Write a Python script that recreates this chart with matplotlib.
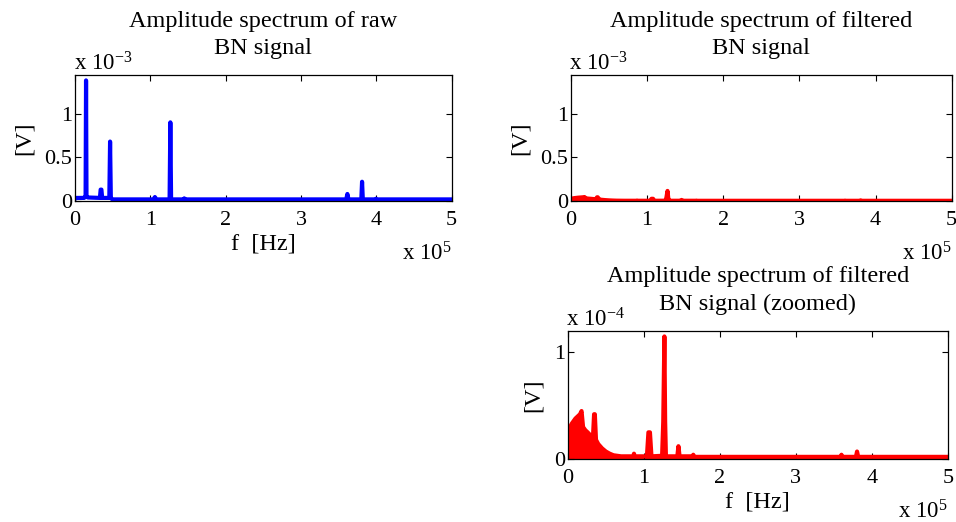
import matplotlib
matplotlib.use("Agg")
import matplotlib.pyplot as plt
import numpy as np

plt.rcParams['font.family'] = ['Liberation Serif', 'DejaVu Serif']
plt.rcParams['mathtext.default'] = 'regular'
plt.rcParams['font.size'] = 16

# Raw BN signal amplitude spectrum (f in Hz, amplitude in 1e-3 V)
f_raw = [0, 2000, 12000, 14000, 14600, 15200, 17000, 33000, 34000, 35000,
         36000, 45500, 46500, 47500, 48500, 50000, 104000, 106000, 108000, 125500,
         126500, 127500, 144000, 145000, 146000, 360000, 361500, 363000, 380000, 381000,
         382000, 398000, 399500, 401000, 500000]
a_raw = [0.025, 0.035, 0.035, 0.05, 1.38, 0.05, 0.04, 0.035, 0.13, 0.13,
         0.035, 0.035, 0.68, 0.035, 0.025, 0.018, 0.018, 0.045, 0.018, 0.018,
         0.90, 0.018, 0.018, 0.03, 0.018, 0.018, 0.08, 0.018, 0.018, 0.22,
         0.018, 0.018, 0.025, 0.018, 0.018]

# Filtered BN signal amplitude spectrum (f in Hz, amplitude in 1e-4 V)
f_filt = [0, 1000, 3000, 5000, 8000, 10000, 13000, 16000, 18000, 20000,
          23000, 26000, 30000, 33000, 34500, 35500, 37000, 40000, 45000, 50000,
          55000, 60000, 65000, 70000, 86000, 87000, 88000, 104000, 106000, 108000,
          110000, 124000, 125500, 127000, 128000, 129000, 130000, 144000, 145500, 147000,
          164000, 165000, 166000, 359000, 360000, 361000, 379000, 380500, 382000, 500000]
a_filt = [0.05, 0.2, 0.3, 0.33, 0.36, 0.38, 0.40, 0.42, 0.45, 0.30,
          0.27, 0.25, 0.22, 0.2, 0.42, 0.42, 0.18, 0.14, 0.1, 0.07,
          0.05, 0.035, 0.03, 0.025, 0.025, 0.05, 0.025, 0.025, 0.25, 0.25,
          0.025, 0.03, 0.35, 1.15, 0.35, 0.03, 0.025, 0.025, 0.12, 0.025,
          0.025, 0.04, 0.02, 0.02, 0.04, 0.02, 0.02, 0.07, 0.02, 0.02]

x_ticks = [0, 1, 2, 3, 4, 5]
titles = ["Amplitude spectrum of raw\nBN signal",
          "Amplitude spectrum of filtered\nBN signal",
          "Amplitude spectrum of filtered\nBN signal (zoomed)"]

f_raw = np.array(f_raw) / 1e5
f_filt = np.array(f_filt) / 1e5
a_raw = np.array(a_raw)
a_filt = np.array(a_filt)

fig = plt.figure(figsize=(9.56, 5.22), dpi=100)
ax1 = fig.add_axes([0.0785, 0.615, 0.394, 0.241])
ax2 = fig.add_axes([0.597, 0.615, 0.3985, 0.241])
ax3 = fig.add_axes([0.594, 0.1207, 0.3975, 0.245])

def style(ax, title, yticks, ylabels, ymax, yexp, xlabel):
    ax.set_xlim(0, 5)
    ax.set_ylim(0, ymax)
    ax.set_xticks(x_ticks)
    ax.set_xticklabels([str(t) for t in x_ticks])
    ax.set_yticks(yticks)
    ax.set_yticklabels(ylabels)
    ax.tick_params(direction='in', top=True, right=True, length=4, width=0.8,
                   labelsize=16)
    ax.tick_params(axis='x', pad=7)
    ax.tick_params(axis='y', pad=2)
    for s in ax.spines.values():
        s.set_linewidth(0.9)
    ax.set_title(title, fontsize=17.5, linespacing=1.42, pad=15)
    ax.set_ylabel("[V]", fontsize=17.5, labelpad=7)
    if xlabel:
        ax.set_xlabel("f  [Hz]", fontsize=17.5, labelpad=3)
    ax.annotate("x 10$^{%s}$" % yexp, xy=(0, 1), xycoords='axes fraction',
                xytext=(-1, 0), textcoords='offset points', ha='left', va='bottom',
                fontsize=16.5)
    ax.annotate("x 10$^{5}$", xy=(1, 0), xycoords='axes fraction',
                xytext=(0, -30), textcoords='offset points', ha='right', va='top',
                fontsize=16.5)

ax1.plot(f_raw, a_raw, color=(0, 0, 1), lw=3.0)
style(ax1, titles[0], [0, 0.5, 1], ['0', '0.5', '1'], 1.44, "-3", True)

ax2.plot(f_filt, a_filt / 10, color=(1, 0, 0), lw=3.0)
ax2.fill_between(f_filt, 0, a_filt / 10, color=(1, 0, 0), lw=0)
style(ax2, titles[1], [0, 0.5, 1], ['0', '0.5', '1'], 1.44, "-3", False)

ax3.plot(f_filt, a_filt, color=(1, 0, 0), lw=3.0)
ax3.fill_between(f_filt, 0, a_filt, color=(1, 0, 0), lw=0)
style(ax3, titles[2], [0, 1], ['0', '1'], 1.2, "-4", True)

fig.savefig("out.png", dpi=100)
